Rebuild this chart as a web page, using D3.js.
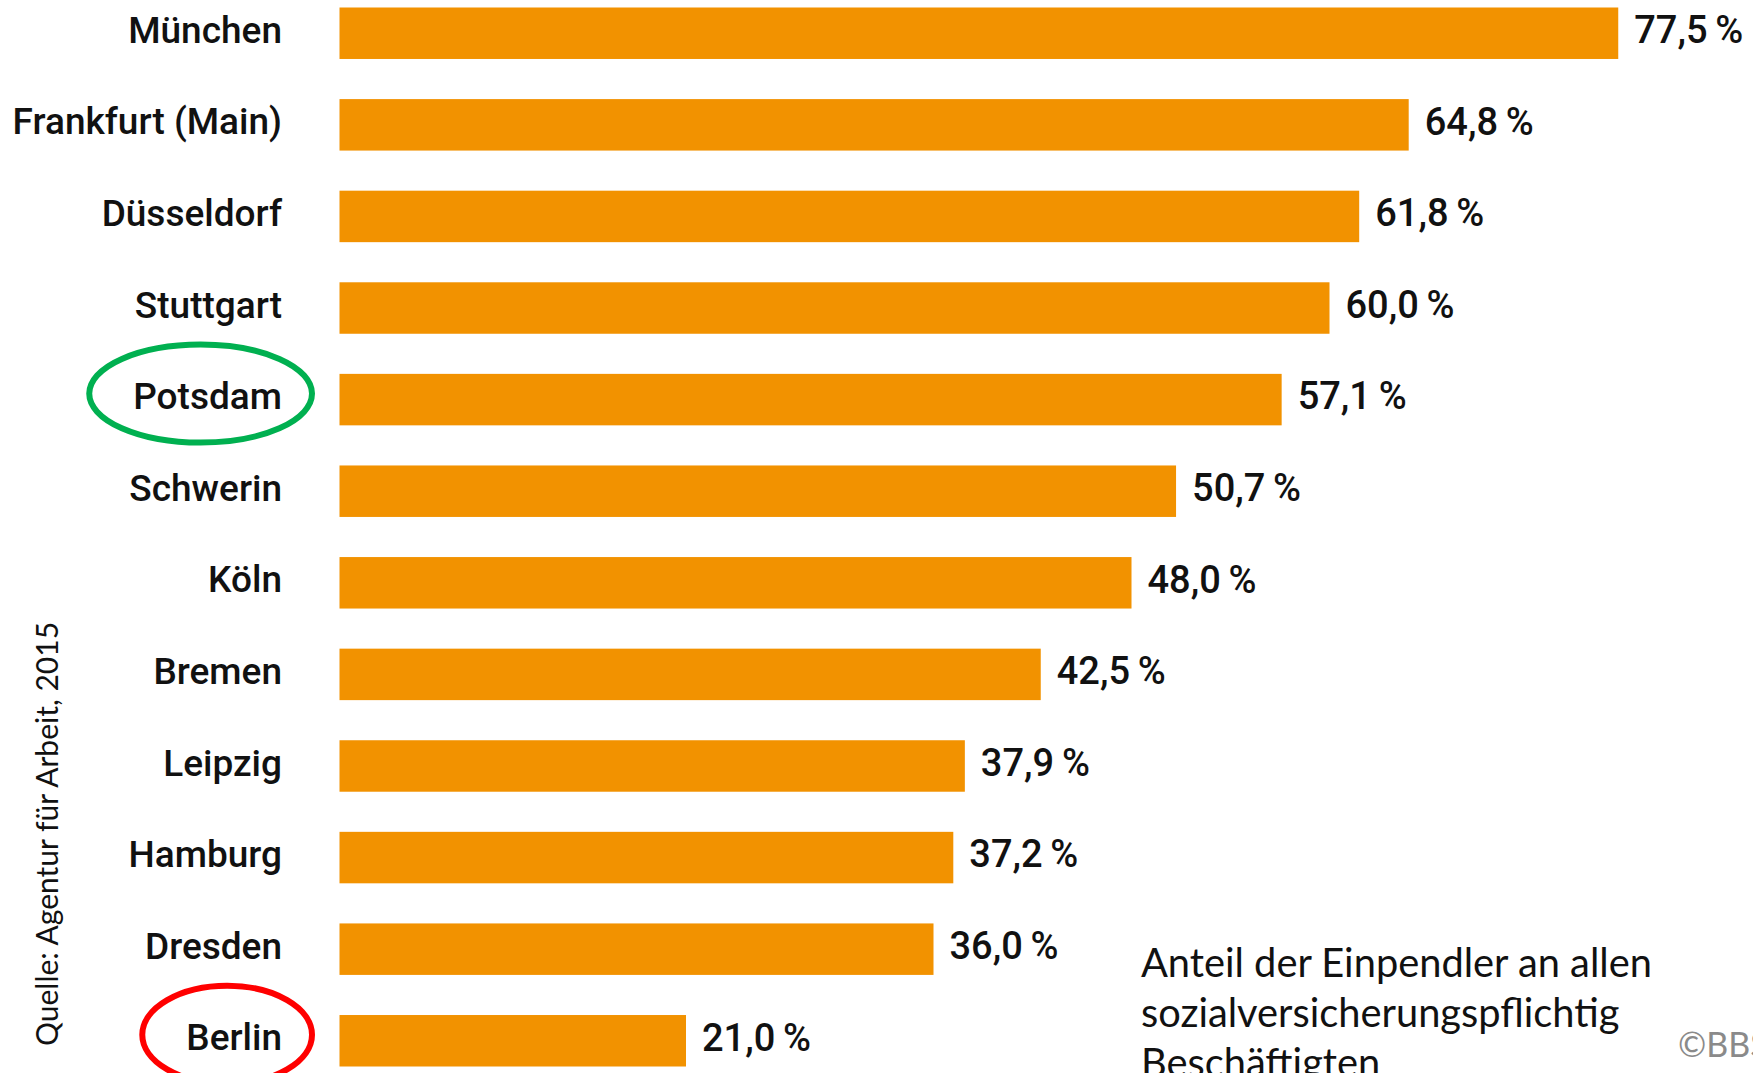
<!DOCTYPE html>
<html>
<head>
<meta charset="utf-8">
<script src="https://cdn.jsdelivr.net/npm/d3@7"></script>
<style>
  body { margin: 0; background: #fff; }
  svg { display: block; }
</style>
</head>
<body>
<div id="chart"></div>
<script>
// Einpendler-Anteil je Stadt (Quelle: Agentur für Arbeit, 2015)
const cities = ["München", "Frankfurt (Main)", "Düsseldorf", "Stuttgart", "Potsdam", "Schwerin",
                "Köln", "Bremen", "Leipzig", "Hamburg", "Dresden", "Berlin"];
const shares = [77.5, 64.8, 61.8, 60.0, 57.1, 50.7, 48.0, 42.5, 37.9, 37.2, 36.0, 21.0];
const highlighted = ["Potsdam", "Berlin"];
const noteLines = ["Anteil der Einpendler an allen", "sozialversicherungspflichtig", "Beschäftigten"];
const sourceText = "Quelle: Agentur für Arbeit, 2015";
const creditText = "©BBSR";

const width = 1753;
const height = 1073;

const barColor = "#f29200";
const ringColors = { "Potsdam": "#00b050", "Berlin": "#ff0000" };

const svg = d3.select("#chart")
    .append("svg")
    .attr("width", width)
    .attr("height", height);

const x = d3.scaleLinear()
    .domain([0, 80])
    .range([339.5, 339.5 + 80 * 16.5]);

const y = d3.scaleBand()
    .domain(cities)
    .range([7.5, 1066.5])
    .paddingInner(0.438)
    .paddingOuter(0);

const de = d3.formatLocale({ decimal: ",", thousands: ".", grouping: [3], currency: ["", " €"] });
const fmt = de.format(".1f");

const rows = cities.map((c, i) => ({ city: c, value: shares[i] }));

// bars
svg.append("g")
    .selectAll("rect")
    .data(rows)
    .join("rect")
    .attr("x", x(0))
    .attr("y", d => y(d.city))
    .attr("width", d => x(d.value) - x(0))
    .attr("height", y.bandwidth())
    .attr("fill", barColor);

// value labels
svg.append("g")
    .selectAll("text")
    .data(rows)
    .join("text")
    .attr("x", d => x(d.value) + 16)
    .attr("y", d => y(d.city) + y.bandwidth() / 2)
    .attr("dy", "0.26em")
    .style("font-family", "Roboto, 'Noto Sans', sans-serif")
    .style("font-weight", 500)
    .style("font-size", "38px")
    .attr("fill", "#111")
    .text(d => fmt(d.value) + "\u2009%");

// city labels
const labels = svg.append("g")
    .selectAll("text")
    .data(rows)
    .join("text")
    .attr("x", 282)
    .attr("y", d => y(d.city) + y.bandwidth() / 2)
    .attr("dy", "0.26em")
    .attr("text-anchor", "end")
    .style("font-family", "Roboto, 'Noto Sans', sans-serif")
    .style("font-weight", 500)
    .style("font-size", "37px")
    .attr("fill", "#111")
    .text(d => d.city);

// rings round the highlighted cities
labels.filter(d => highlighted.includes(d.city)).each(function(d) {
    const w = this.getComputedTextLength();
    svg.append("ellipse")
        .attr("cx", 282 - w / 2 - 7)
        .attr("cy", y(d.city) + y.bandwidth() / 2 - 6)
        .attr("rx", w / 2 + 37)
        .attr("ry", 49)
        .attr("fill", "none")
        .attr("stroke", ringColors[d.city])
        .attr("stroke-width", 6);
});

// source, rotated
svg.append("text")
    .attr("transform", "translate(58,834) rotate(-90)")
    .attr("text-anchor", "middle")
    .style("font-family", "Lato, 'Open Sans', sans-serif")
    .style("font-size", "30px")
    .attr("fill", "#111")
    .text(sourceText);

// note bottom right
svg.append("text")
    .attr("x", 1141)
    .attr("y", 977)
    .style("font-family", "Lato, 'Open Sans', sans-serif")
    .style("font-size", "39.8px")
    .attr("fill", "#111")
    .selectAll("tspan")
    .data(noteLines)
    .join("tspan")
    .attr("x", 1141)
    .attr("dy", (d, i) => i === 0 ? 0 : 50)
    .text(d => d);

svg.append("text")
    .attr("x", 1678)
    .attr("y", 1057)
    .style("font-family", "Lato, 'Open Sans', sans-serif")
    .style("font-size", "34px")
    .attr("fill", "#8a8a8a")
    .text(creditText);
</script>
</body>
</html>
